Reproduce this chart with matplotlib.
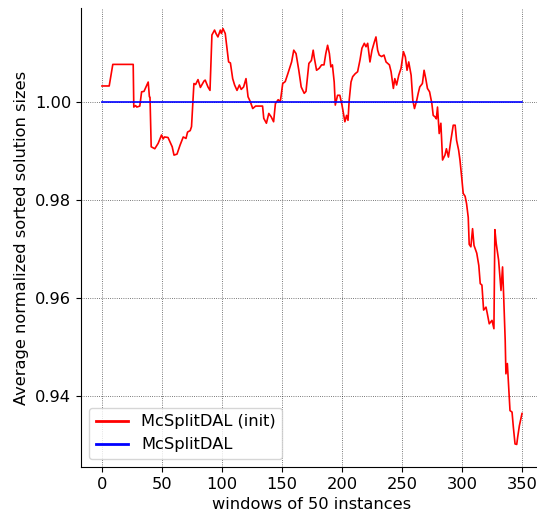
import matplotlib
matplotlib.use("Agg")
import matplotlib.pyplot as plt

# Window index and average normalized sorted solution size for McSplitDAL (init)
windows = [
    0, 6, 9, 26, 26.5, 28, 29, 31.5, 33, 35, 36.5, 38.5, 39.5, 40, 41, 44, 46.8, 49.6,
    51, 52, 55, 58.5, 60, 62.5, 65, 67.7, 70, 71.3, 73.5, 74.6, 76.6, 78, 80, 82, 85,
    86, 88.3, 90, 91.6, 93.8, 95, 96.6, 98.6, 99.5, 100.8, 102.7, 105.5, 107, 108.9,
    110.5, 112.5, 114.5, 116, 118, 120, 121.7, 123.6, 125.6, 128, 131, 133.8, 134.8,
    137, 139, 141, 143, 144.5, 146.8, 148.6, 150.6, 152.7, 155, 158, 159.8, 161.7,
    164, 166, 168.5, 170, 172.4, 174.5, 176, 176.8, 178.8, 181, 183, 185, 186.5, 188,
    189.5, 190.7, 192, 193.5, 194.4, 196.3, 198.2, 200, 201, 202.4, 203.8, 205, 206,
    207.5, 208.9, 211, 213, 215, 216.6, 218.6, 220, 221.4, 223.3, 225, 227, 228.3,
    229.7, 231, 233, 235, 236.7, 239.5, 240.9, 242.8, 244, 245.5, 247.3, 249.2, 251.2,
    252.8, 254.2, 255.6, 257.6, 259, 260.4, 262.3, 263.5, 264.8, 267, 268.4, 269.8,
    271.2, 273, 274.9, 276, 277.5, 278.6, 279.6, 281, 282.4, 283.8, 285.8, 287, 288.7,
    290.7, 292.7, 294.3, 295.5, 297.2, 298.3, 299.7, 301, 302.6, 303.8, 305.2, 306,
    307.4, 308.8, 310, 312.3, 314, 315.2, 316.6, 318, 320, 321, 322.7, 325, 326.6,
    327.4, 328.5, 330.5, 332.5, 333.8, 334.7, 336, 336.6, 337.8, 340, 341.7, 342.8,
    344.2, 345.6, 346.4, 347.8, 350,
]
init_sizes = [
    1.0033, 1.0033, 1.0077, 1.0077, 0.9990, 0.9993, 0.9990, 0.9992, 1.0021, 1.0022,
    1.0030, 1.0041, 1.0011, 1.0010, 0.9909, 0.9905, 0.9916, 0.9933, 0.9925, 0.9929,
    0.9928, 0.9909, 0.9892, 0.9894, 0.9912, 0.9929, 0.9926, 0.9939, 0.9942, 0.9950,
    1.0038, 1.0036, 1.0046, 1.0030, 1.0043, 1.0045, 1.0031, 1.0024, 1.0137, 1.0147,
    1.0140, 1.0133, 1.0147, 1.0140, 1.0150, 1.0140, 1.0082, 1.0080, 1.0048, 1.0035,
    1.0024, 1.0035, 1.0026, 1.0031, 1.0048, 1.0011, 1.0001, 0.9987, 0.9992, 0.9992,
    0.9992, 0.9967, 0.9957, 0.9977, 0.9970, 0.9960, 0.9997, 1.0005, 1.0001, 1.0038,
    1.0042, 1.0059, 1.0082, 1.0106, 1.0099, 1.0065, 1.0031, 1.0018, 1.0022, 1.0079,
    1.0085, 1.0106, 1.0092, 1.0065, 1.0069, 1.0076, 1.0076, 1.0099, 1.0116, 1.0099,
    1.0072, 1.0076, 1.0041, 0.9994, 1.0014, 1.0014, 0.9994, 0.9980, 0.9960, 0.9973,
    0.9963, 1.0004, 1.0041, 1.0052, 1.0058, 1.0062, 1.0086, 1.0110, 1.0120, 1.0113,
    1.0120, 1.0082, 1.0106, 1.0123, 1.0133, 1.0106, 1.0096, 1.0093, 1.0096, 1.0082,
    1.0076, 1.0062, 1.0028, 1.0048, 1.0035, 1.0055, 1.0069, 1.0103, 1.0092, 1.0065,
    1.0082, 1.0055, 1.0004, 0.9987, 1.0004, 1.0018, 1.0031, 1.0038, 1.0065, 1.0048,
    1.0028, 1.0021, 0.9997, 0.9973, 0.9970, 0.9966, 0.9990, 0.9936, 0.9957, 0.9882,
    0.9892, 0.9905, 0.9888, 0.9922, 0.9953, 0.9953, 0.9922, 0.9902, 0.9882, 0.9848,
    0.9814, 0.9808, 0.9793, 0.9765, 0.9710, 0.9705, 0.9742, 0.9708, 0.9692, 0.9667,
    0.9630, 0.9627, 0.9576, 0.9582, 0.9570, 0.9548, 0.9555, 0.9538, 0.9740, 0.9712,
    0.9678, 0.9616, 0.9664, 0.9606, 0.9514, 0.9446, 0.9467, 0.9371, 0.9368, 0.9337,
    0.9303, 0.9302, 0.9317, 0.9340, 0.9365,
]

# Reference solver (normalization baseline)
ref_windows = [0, 350]
ref_sizes = [1.0, 1.0]

series_labels = ["McSplitDAL (init)", "McSplitDAL"]
yticks = [0.94, 0.96, 0.98, 1.00]
xticks = [0, 50, 100, 150, 200, 250, 300, 350]

FS = 11.7

fig = plt.figure(figsize=(5.37, 5.20), dpi=100)
ax = fig.add_axes([81 / 537, 1 - 467 / 520, 462 / 537, 459 / 520])

ax.plot(windows, init_sizes, color="red", linewidth=1.2, label=series_labels[0])
ax.plot(ref_windows, ref_sizes, color="blue", linewidth=1.2, label=series_labels[1])

ax.set_xlim(-17.5, 367.5)
ax.set_ylim(0.9256, 1.0192)
ax.set_xticks(xticks)
ax.set_yticks(yticks)
ax.set_yticklabels([f"{v:.2f}" for v in yticks])

ax.grid(True, linestyle=":", color="black", linewidth=0.6, alpha=0.7)
ax.spines["top"].set_visible(False)
ax.spines["right"].set_visible(False)

ax.set_xlabel("windows of 50 instances", fontsize=FS)
ax.set_ylabel("Average normalized sorted solution sizes", fontsize=FS)
ax.tick_params(labelsize=FS)

leg = ax.legend(loc="lower left", fontsize=FS)
for line in leg.get_lines():
    line.set_linewidth(2.0)

fig.savefig("out.png", dpi=100)
